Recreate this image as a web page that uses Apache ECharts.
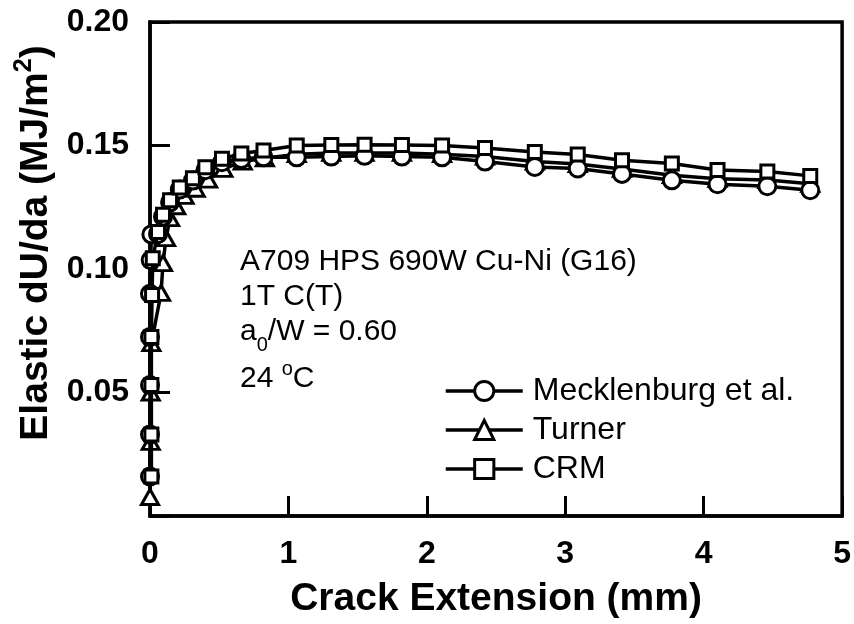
<!DOCTYPE html>
<html><head><meta charset="utf-8">
<script src="https://cdn.jsdelivr.net/npm/echarts@6/dist/echarts.min.js"></script>
<style>html,body{margin:0;padding:0;background:#fff}#c{width:854px;height:624px}</style>
</head><body><div id="c"></div>
<script>
const seriesNames = ['Mecklenburg et al.', 'Turner', 'CRM'];

const meckX = [0, 0, 0, 0, 0, 0.005, 0.01, 0.058, 0.094, 0.145, 0.215, 0.31, 0.40, 0.52, 0.66, 0.82, 1.06, 1.31, 1.55, 1.82, 2.11, 2.42, 2.78, 3.09, 3.41, 3.77, 4.10, 4.46, 4.77];
const meckY = [0.016, 0.033, 0.053, 0.0725, 0.090, 0.1036, 0.1140, 0.1142, 0.1212, 0.1270, 0.1322, 0.1358, 0.1400, 0.1432, 0.1445, 0.1452, 0.1452, 0.1455, 0.1458, 0.1455, 0.1452, 0.1435, 0.1413, 0.1407, 0.1385, 0.1359, 0.1343, 0.1335, 0.1319];

const turnX = [0, 0.005, 0.005, 0.01, 0.08, 0.094, 0.116, 0.145, 0.19, 0.25, 0.33, 0.42, 0.53, 0.67, 0.83, 1.06, 1.31, 1.55, 1.82, 2.11, 2.42, 2.78, 3.09, 3.41, 3.77, 4.10, 4.46, 4.77];
const turnY = [0.0077, 0.030, 0.050, 0.070, 0.0903, 0.1024, 0.1125, 0.1206, 0.1254, 0.1296, 0.1325, 0.1362, 0.1405, 0.1435, 0.1448, 0.1465, 0.1470, 0.1470, 0.1470, 0.1465, 0.1455, 0.1435, 0.1425, 0.1405, 0.1380, 0.1365, 0.1360, 0.1345];

const crmX = [0.01, 0.01, 0.01, 0.01, 0.015, 0.02, 0.058, 0.094, 0.145, 0.215, 0.31, 0.40, 0.52, 0.66, 0.82, 1.06, 1.31, 1.55, 1.82, 2.11, 2.42, 2.78, 3.09, 3.41, 3.77, 4.10, 4.46, 4.77];
const crmY = [0.016, 0.033, 0.053, 0.0725, 0.0895, 0.1044, 0.1150, 0.1220, 0.1278, 0.1330, 0.1367, 0.1412, 0.1446, 0.1468, 0.1480, 0.1500, 0.1502, 0.1503, 0.1502, 0.1500, 0.1490, 0.1474, 0.1464, 0.1440, 0.1427, 0.1401, 0.1395, 0.1377];

const xMin = 0, xMax = 5, xStep = 1;
const yMin = 0, yMax = 0.20, yStep = 0.05;

const FF = 'Arial, "Liberation Sans", Helvetica, sans-serif';
const zip = (xs, ys) => xs.map((x, i) => [x, ys[i]]);

const chart = echarts.init(document.getElementById('c'), null, {renderer: 'canvas'});
const markStyle = {color: '#fff', borderColor: '#000', borderWidth: 3};
const lineStyle = {color: '#000', width: 3.5};
function mkSeries(name, data, symbol, size, z) {
  return {
    name, type: 'line', data, symbol, symbolSize: size, z,
    showAllSymbol: true, lineStyle, itemStyle: markStyle,
    emphasis: {disabled: true}, animation: false
  };
}
chart.setOption({
  backgroundColor: '#fff',
  animation: false,
  grid: {left: 150, right: 11, top: 22, bottom: 105, show: true, borderColor: '#000', borderWidth: 3.5, backgroundColor: 'transparent'},
  xAxis: {
    type: 'value', min: xMin, max: xMax, interval: xStep,
    name: 'Crack Extension (mm)', nameLocation: 'middle', nameGap: 64,
    nameTextStyle: {fontFamily: FF, fontWeight: 'bold', fontSize: 39, color: '#000'},
    axisLine: {lineStyle: {color: '#000', width: 3.5}},
    axisTick: {inside: true, length: 20, lineStyle: {color: '#000', width: 3}},
    axisLabel: {fontFamily: FF, fontWeight: 'bold', fontSize: 32, color: '#000', margin: 22},
    splitLine: {show: false}
  },
  yAxis: {
    type: 'value', min: yMin, max: yMax, interval: yStep,
    name: 'Elastic dU/da (MJ/m{sup|2})', nameLocation: 'middle', nameGap: 87, nameRotate: 90,
    nameTextStyle: {fontFamily: FF, fontWeight: 'bold', fontSize: 39, color: '#000', padding: [0, 0, 0, 52],
      rich: {sup: {fontFamily: FF, fontWeight: 'bold', fontSize: 25, color: '#000', verticalAlign: 'top', lineHeight: 50}}},
    axisLine: {lineStyle: {color: '#000', width: 3.5}},
    axisTick: {inside: true, length: 20, lineStyle: {color: '#000', width: 3}},
    axisLabel: {fontFamily: FF, fontWeight: 'bold', fontSize: 32, color: '#000', margin: 21,
      formatter: v => v === 0 ? '' : v.toFixed(2)},
    splitLine: {show: false}
  },
  legend: {
    data: seriesNames, orient: 'vertical', left: 439, top: 370,
    itemWidth: 77, itemHeight: 24, itemGap: 7, selectedMode: false,
    lineStyle: {width: 3.5, color: '#000'},
    itemStyle: {color: '#fff', borderColor: '#000', borderWidth: 3},
    textStyle: {fontFamily: FF, fontSize: 32, color: '#000', padding: [0, 0, 0, 5]}
  },
  graphic: [
    {type: 'text', left: 240, top: 247, style: {text: 'A709 HPS 690W Cu-Ni (G16)', font: '30px ' + FF, fill: '#000'}},
    {type: 'text', left: 240, top: 282, style: {text: '1T C(T)', font: '30px ' + FF, fill: '#000'}},
    {type: 'text', left: 240, top: 317, style: {text: 'a{sub|0}/W = 0.60', font: '30px ' + FF, fill: '#000',
      rich: {sub: {fontSize: 20, fontFamily: FF, verticalAlign: 'bottom', lineHeight: 46, fill: '#000'}}}},
    {type: 'text', left: 240, top: 359, style: {text: '24 {sup|o}C', font: '30px ' + FF, fill: '#000',
      rich: {sup: {fontSize: 20, fontFamily: FF, verticalAlign: 'top', lineHeight: 40, fill: '#000'}}}}
  ],
  series: [
    mkSeries(seriesNames[0], zip(meckX, meckY), 'circle', 17, 3),
    mkSeries(seriesNames[1], zip(turnX, turnY), 'triangle', [17, 15], 2),
    mkSeries(seriesNames[2], zip(crmX, crmY), 'rect', 13, 4)
  ]
});
</script></body></html>
